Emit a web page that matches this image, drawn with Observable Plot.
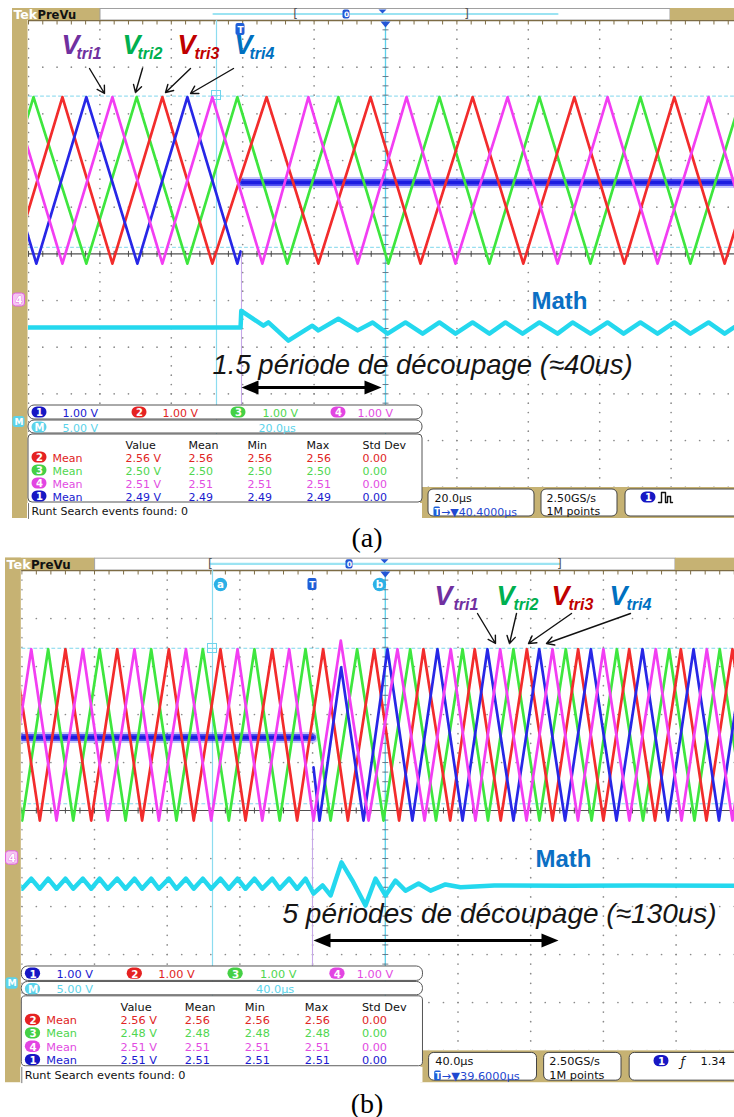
<!DOCTYPE html>
<html>
<head>
<meta charset="utf-8">
<script src="https://cdn.jsdelivr.net/npm/d3@7"></script>
<script src="https://cdn.jsdelivr.net/npm/@observablehq/plot@0.6"></script>
<style>
  html, body { margin: 0; padding: 0; background: #fff; }
  #wrap { width: 734px; }
  svg { display: block; }
  .cap { font-family: "Liberation Serif", "Times New Roman", serif; font-size: 28px; text-align: center; color: #000; }
</style>
</head>
<body>
<div id="wrap">
  <div id="panelA"></div>
  <div class="cap" style="height:25px;line-height:25px;">(a)</div>
  <div id="panelB"></div>
  <div class="cap" style="height:27px;line-height:27px;">(b)</div>
</div>
<script>
// levels in screen divisions above the centre line
const H = 3.36, L = -0.21;      // carrier top / bottom
const P = -1.42, T = -1.63;     // (b) math ripple top / bottom

const labelSubs = ["tri1", "tri2", "tri3", "tri4"];
const channelIds = ["1", "2", "3", "4"];
const channelScales = ["1.00 V", "1.00 V", "1.00 V", "1.00 V"];
const mathScale = "5.00 V";
const measHeaders = ["Value", "Mean", "Min", "Max", "Std Dev"];
const measChannels = ["2", "3", "4", "1"];
const aMeasValue = ["2.56 V", "2.50 V", "2.51 V", "2.49 V"];
const aMeasMean = ["2.56", "2.50", "2.51", "2.49"];
const aMeasMin = ["2.56", "2.50", "2.51", "2.49"];
const aMeasMax = ["2.56", "2.50", "2.51", "2.49"];
const aMeasStd = ["0.00", "0.00", "0.00", "0.00"];
const bMeasValue = ["2.56 V", "2.48 V", "2.51 V", "2.51 V"];
const bMeasMean = ["2.56", "2.48", "2.51", "2.51"];
const bMeasMin = ["2.56", "2.48", "2.51", "2.51"];
const bMeasMax = ["2.56", "2.48", "2.51", "2.51"];
const bMeasStd = ["0.00", "0.00", "0.00", "0.00"];
const aTimebase = "20.0µs", bTimebase = "40.0µs";
const aTrigPos = "40.4000µs", bTrigPos = "39.6000µs";
const sampleRate = "2.50GS/s", recordLen = "1M points";
const bTrigLevel = "1.34";
const runtText = "Runt Search events found: 0";
const aNote = "1.5 période de découpage (≈40us)";
const bNote = "5 périodes de découpage (≈130us)";

// ---- panel (a): time in µs from the left edge of the graticule (20 µs/div) ----
const aGreen = [[-12.6,L],[1.4,H],[16.2,L],[30.3,H],[44.5,L],[58.5,H],[72.5,L],[86.8,H],[100.8,L],[115.1,H],[129.1,L],[143.1,H],[157.4,L],[171.4,H],[185.4,L],[199.7,H]];
const aRed = [[-18.5,H],[-4.5,L],[9.5,H],[23.5,L],[37.5,H],[51.5,L],[66.7,H],[81.2,L],[95.8,H],[109.8,L],[124.4,H],[138.6,L],[152.9,H],[166.9,L],[180.9,H],[195.0,L],[209.2,H]];
const aMagenta = [[-18.5,L],[-4.5,H],[9.5,L],[23.5,H],[37.5,L],[51.5,H],[65.5,L],[78.4,H],[92.2,L],[105.9,H],[119.6,L],[134.2,H],[148.2,L],[162.2,H],[176.2,L],[190.5,H],[204.2,L]];
const aBlue = [[-11.8,H],[2.2,L],[16.2,H],[30.5,L],[44.5,H],[58.5,L],[59.4,0.05]];
const aBlueFlat = [[59.9,1.53],[200,1.53]];
const aMath = [[-8,-1.58],[59.4,-1.58],[59.6,-1.22],[65.8,-1.54],[67.2,-1.47],[72.8,-1.86],[79.5,-1.54],[81.2,-1.64],[86.8,-1.39],[92.2,-1.64],[96.4,-1.47],[100.6,-1.71],[105.6,-1.47],[110.4,-1.71],[115.1,-1.47],[119.6,-1.71],[124.4,-1.47],[129.1,-1.71],[133.6,-1.47],[138.4,-1.71],[143.1,-1.47],[148.2,-1.71],[152.4,-1.47],[157.4,-1.71],[162.2,-1.47],[166.7,-1.71],[171.4,-1.47],[176.2,-1.71],[180.9,-1.47],[185.4,-1.71],[190.5,-1.47],[195.0,-1.71],[199.7,-1.47]];

// ---- panel (b): time in µs from the left edge of the graticule (40 µs/div) ----
const bGreen = [[-13.9,H],[0.2,L],[14.5,H],[28.3,L],[42.8,H],[57.1,L],[71.2,H],[85.1,L],[99.6,H],[113.9,L],[128.0,H],[141.9,L],[156.1,H],[169.9,L],[184.5,H],[199.0,L],[213.7,H],[227.9,L],[242.5,H],[256.5,L],[270.5,H],[284.8,L],[299.3,H],[313.5,L],[327.4,H],[341.8,L],[356.2,H],[370.1,L],[384.0,H],[398.2,L]];
const bRed = [[-18.3,L],[-4.3,H],[9.9,L],[24.0,H],[38.2,L],[52.5,H],[66.2,L],[80.9,H],[94.6,L],[109.3,H],[123.1,L],[137.8,H],[151.5,L],[165.8,H],[179.4,L],[193.9,H],[207.6,L],[221.0,H],[235.7,L],[249.2,H],[263.5,L],[277.9,H],[292.0,L],[306.1,H],[320.0,L],[334.2,H],[348.4,L],[362.6,H],[376.7,L],[391.0,H],[404.8,L]];
const bMagenta = [[-9.0,L],[5.2,H],[19.1,L],[33.6,H],[47.3,L],[62.0,H],[75.4,L],[90.3,H],[104.2,L],[118.7,H],[132.3,L],[147.1,H],[160.5,L],[175.5,3.54],[190.8,L],[206.7,H],[221.6,L],[236.0,H],[249.6,L],[263.2,H],[277.7,L],[292.0,H],[306.0,L],[320.0,H],[334.3,L],[348.8,H],[363.0,L],[376.9,H],[391.0,L],[405.1,H]];
const bBlue = [[160.5,0.9],[163.8,L],[175.7,2.98],[188.0,L],[201.2,H],[214.9,L],[228.7,H],[242.5,L],[256.2,H],[270.5,L],[284.7,H],[298.9,L],[313.1,H],[327.2,L],[341.5,H],[355.5,L],[369.6,H],[383.6,L],[397.6,H]];
const bBlueFlat = [[-1,1.52],[160.0,1.52]];
const bMath = [[-4.3,P],[0.2,T],[5.2,P],[9.9,T],[14.5,P],[19.1,T],[24.0,P],[28.3,T],[33.6,P],[38.2,T],[42.8,P],[47.3,T],[52.5,P],[57.1,T],[62.0,P],[66.2,T],[71.2,P],[75.4,T],[80.9,P],[85.1,T],[90.3,P],[94.6,T],[99.6,P],[104.2,T],[109.3,P],[113.9,T],[118.7,P],[123.1,T],[128.0,P],[132.3,T],[137.8,P],[141.9,T],[147.1,P],[151.5,T],[156.1,P],[160.5,-1.73],[165.5,-1.56],[169.9,-1.77],[175.9,-1.08],[181.9,-1.46],[189.1,-1.98],[194.6,-1.42],[200.1,-1.77],[205.6,-1.46],[211.1,-1.67],[218.3,-1.52],[224.9,-1.67],[233.1,-1.54],[241.4,-1.6],[260,-1.56],[300,-1.57],[340,-1.56],[400,-1.57]];

const COL = {blue: "#2727e6", red: "#f22c2c", green: "#3ee63e", magenta: "#f23ef2", math: "#24d8ee"};
const chBadge = ["#1717c4", "#e52222", "#45d045", "#e245e2"];
const chText = ["#1a1ad0", "#e02424", "#4fd64f", "#e24ce2"];
const vColors = ["#7030a0", "#00b050", "#c00000", "#0070c0"];

function buildPanel(c, d) {
  const {x0, dw, tdiv, yTop, dh, width, height} = c;
  const k = dh / 46.667;
  const X = p => (p - x0) / dw * tdiv;       // local px -> time
  const Y = p => 5 - (p - yTop) / dh;        // local px -> div
  const CX = p => (p - 28) / 71.4 * tdiv;    // screen chrome px -> time
  const CY = p => 5 - (p - 20) / 46.667;
  const xMax = 10 * tdiv;
  const F = "DejaVu Sans";
  const TAN = "#c6b273";
  const M = [];
  const R = (x1, x2, y1, y2, o) => Plot.rect([{x1, x2, y1, y2}], {x1: "x1", x2: "x2", y1: "y1", y2: "y2", ...o});
  const crect = (a, b, e, f, o) => R(CX(a), CX(b), CY(e), CY(f), o);
  const Tx = (x, y, s, o) => Plot.text([{x, y, s}], {x: "x", y: "y", text: "s", fontFamily: F, fontSize: 11 * k, textAnchor: "start", lineAnchor: "middle", ...o});
  const ctext = (x, y, s, o) => Tx(CX(x), CY(y), s, o);
  const Ln = (pts, o) => Plot.line(pts, {x: p => p[0], y: p => p[1], ...o});
  const badge = (cx, cy, label, fill, w = 7.5, h = 5.5) => {
    M.push(R(CX(cx - w), CX(cx + w), CY(cy - h), CY(cy + h), {fill, rx: h * k}));
    M.push(ctext(cx, cy + 0.5, label, {fill: "#fff", textAnchor: "middle", fontWeight: "bold", fontSize: 10 * k}));
  };

  // ---- frame chrome ----
  M.push(crect(12, 27.5, 8, 518, {fill: TAN}));
  M.push(crect(12, 100, 8, 20, {fill: TAN}));
  M.push(crect(100, 670, 8.5, 20, {fill: "#fff", stroke: "#a0a0a0"}));
  M.push(crect(670, 780, 8, 20, {fill: TAN}));
  M.push(crect(420, 780, 487, 518, {fill: TAN}));
  M.push(ctext(13, 14.5, "Tek", {fill: "#fff", fontWeight: "bold", fontSize: 12.5 * k}));
  M.push(ctext(37, 14.5, "PreVu", {fill: "#111", fontWeight: "bold", fontSize: 11.5 * k}));
  M.push(Ln([[X(c.cyanBar[0]), CY(13.5)], [X(c.cyanBar[1]), CY(13.5)]], {stroke: "#9be3f2", strokeWidth: 2.2}));
  M.push(Tx(X(c.bracket[0]), CY(14), "[", {fill: "#555", fontSize: 12 * k, textAnchor: "middle"}));
  M.push(Tx(X(c.bracket[1]), CY(14), "]", {fill: "#555", fontSize: 12 * k, textAnchor: "middle"}));
  M.push(R(X(c.zero - 3.5), X(c.zero + 3.5), CY(9.5), CY(18.5), {fill: "#2456d6", rx: 2}));
  M.push(Tx(X(c.zero), CY(14.3), "0", {fill: "#fff", fontSize: 7.5 * k, textAnchor: "middle", fontWeight: "bold"}));
  M.push(Ln([[X(c.barTri - 4), CY(9)], [X(c.barTri + 4), CY(9)], [X(c.barTri), CY(13)]], {fill: "#2456d6", stroke: "none"}));

  // ---- graticule ----
  const dots = [];
  for (let i = 0; i <= 10; i++) for (let j = 0; j <= 50; j++) dots.push([i * tdiv, 5 - j * 0.2]);
  for (let i = 1; i <= 10; i++) for (let j = 0; j <= 50; j++) dots.push([j * 0.2 * tdiv, 5 - i]);
  M.push(Plot.dot(dots, {x: p => p[0], y: p => p[1], r: 0.85, fill: "#8a8a8a", clip: true}));
  M.push(Ln([[0, 5], [xMax, 5]], {stroke: "#7d6c45", strokeWidth: 1.6, clip: true}));
  const topTicks = [], hTicks = [], vTicks = [];
  for (let j = 0; j <= 50; j++) {
    topTicks.push({x: j * 0.2 * tdiv});
    hTicks.push({x: j * 0.2 * tdiv});
    vTicks.push({y: 5 - j * 0.2});
  }
  M.push(Plot.link(topTicks, {x1: "x", x2: "x", y1: 5, y2: 5 - 4 / dh, stroke: "#7d6c45", strokeWidth: 1, clip: true}));
  // horizontal cursors
  M.push(Ln([[0, 3.38], [xMax, 3.38]], {stroke: "#7fd6ec", strokeWidth: 1, strokeDasharray: "3,3", clip: true}));
  M.push(Ln([[0, 0.14], [xMax, 0.14]], {stroke: "#7fd6ec", strokeWidth: 1, strokeDasharray: "3,3", clip: true}));
  // centre horizontal line with ticks
  M.push(Ln([[0, 0], [xMax, 0]], {stroke: "#505050", strokeWidth: 1.1, clip: true}));
  M.push(Plot.link(hTicks, {x1: "x", x2: "x", y1: 3 / dh, y2: -3 / dh, stroke: "#505050", strokeWidth: 1, clip: true}));
  // centre vertical (cursor b / expansion point)
  M.push(Ln([[5 * tdiv, 5], [5 * tdiv, -5]], {stroke: "#5cd0ea", strokeWidth: 1.3}));
  M.push(Plot.link(vTicks, {x1: 5 * tdiv - 3 / dw * tdiv, x2: 5 * tdiv + 3 / dw * tdiv, y1: "y", y2: "y", stroke: "#607080", strokeWidth: 0.9}));
  // cursor a
  M.push(Ln([[X(c.cursorA), 5], [X(c.cursorA), -5]], {stroke: "#8cdcf0", strokeWidth: 1.2}));
  M.push(R(X(c.cursorA - 4.5), X(c.cursorA + 4.5), Y(c.cursorSqY - 4.5), Y(c.cursorSqY + 4.5), {fill: "none", stroke: "#70d4ec", strokeWidth: 1}));
  M.push(Ln([[X(c.cursorA - 4.5), Y(c.cursorSqY)], [X(c.cursorA + 4.5), Y(c.cursorSqY)]], {stroke: "#70d4ec", strokeWidth: 0.8}));
  // trigger line
  M.push(Ln([[X(c.trigX), Y(c.trigLine[0])], [X(c.trigX), Y(c.trigLine[1])]], {stroke: "#c6a8e8", strokeWidth: 1.1}));

  // ---- traces ----
  const tri = (arr, color) => M.push(Ln(arr, {stroke: color, strokeWidth: 2.7, clip: true}));
  M.push(Ln(d.blueFlat, {stroke: "#4a4af4", strokeWidth: 11, strokeOpacity: 0.3, clip: true}));
  M.push(Ln(d.blueFlat, {stroke: "#2a2aee", strokeWidth: 7, strokeOpacity: 0.75, clip: true}));
  M.push(Ln(d.blueFlat, {stroke: "#1c1ce0", strokeWidth: 3.5, clip: true}));
  tri(d.green, COL.green);
  tri(d.red, COL.red);
  tri(d.blue, COL.blue);
  tri(d.magenta, COL.magenta);
  M.push(Ln(d.math, {stroke: COL.math, strokeWidth: 4.5, clip: true}));

  // top markers
  const tm = c.trigMarker;
  M.push(R(X(tm - 4.5), X(tm + 4.5), Y(c.markerY - 6), Y(c.markerY + 6), {fill: "#1f5fd8", rx: 2}));
  M.push(Tx(X(tm), Y(c.markerY + 0.5), "T", {fill: "#fff", fontWeight: "bold", fontSize: 9 * k, textAnchor: "middle"}));
  if (c.abMarkers) {
    for (const [mx, lab] of c.abMarkers) {
      M.push(Plot.dot([{x: X(mx), y: Y(c.markerY)}], {x: "x", y: "y", r: 6.5 * k, fill: "#2cb0e6"}));
      M.push(Tx(X(mx), Y(c.markerY + 0.5), lab, {fill: "#fff", fontWeight: "bold", fontSize: 10 * k, textAnchor: "middle"}));
    }
  }
  M.push(Ln([[5 * tdiv - 5 / dw * tdiv, 5 - 1 / dh], [5 * tdiv + 5 / dw * tdiv, 5 - 1 / dh], [5 * tdiv, 5 - 7 / dh]], {fill: "#2456d6", stroke: "none"}));

  // ---- annotations ----
  const v = c.vLabels;
  for (let i = 0; i < 4; i++) {
    M.push(Tx(X(v.v[i]), Y(v.base), "V", {fill: vColors[i], fontFamily: "Liberation Sans", fontWeight: "bold", fontStyle: "italic", fontSize: v.size, lineAnchor: "bottom"}));
    M.push(Tx(X(v.sub[i]), Y(v.subBase), labelSubs[i], {fill: vColors[i], fontFamily: "Liberation Sans", fontWeight: "bold", fontStyle: "italic", fontSize: v.subSize, lineAnchor: "bottom"}));
  }
  M.push(Plot.arrow(c.arrows.map(a => ({x1: X(a[0]), y1: Y(a[1]), x2: X(a[2]), y2: Y(a[3])})), {x1: "x1", y1: "y1", x2: "x2", y2: "y2", stroke: "#111", strokeWidth: 1.4, headLength: 9}));
  M.push(Tx(X(c.mathLabel[0]), Y(c.mathLabel[1]), "Math", {fill: "#0b6fc4", fontFamily: "Liberation Sans", fontWeight: "bold", fontSize: c.mathLabel[2], textAnchor: "middle", lineAnchor: "bottom"}));
  M.push(Tx(X(c.note[0]), Y(c.note[1]), d.note, {fill: "#151515", fontFamily: "Liberation Sans", fontStyle: "italic", fontSize: c.note[2], lineAnchor: "bottom"}));
  const [sl, sr, sy] = c.span;
  M.push(Ln([[X(sl + 8), Y(sy)], [X(sr - 8), Y(sy)]], {stroke: "#000", strokeWidth: 2.8}));
  M.push(Ln([[X(sl), Y(sy)], [X(sl + 17), Y(sy - 7)], [X(sl + 17), Y(sy + 7)]], {fill: "#000", stroke: "none"}));
  M.push(Ln([[X(sr), Y(sy)], [X(sr - 17), Y(sy - 7)], [X(sr - 17), Y(sy + 7)]], {fill: "#000", stroke: "none"}));

  // ---- side markers ----
  M.push(crect(12.5, 24.5, 293, 306, {fill: "#f5c6f2", stroke: "#e060e0", rx: 3}));
  M.push(ctext(18.5, 300, "4", {fill: "#fff", fontWeight: "bold", fontSize: 10 * k, textAnchor: "middle", stroke: "#e050e0", strokeWidth: 0.6}));
  M.push(crect(12.5, 24.5, 416, 427, {fill: "#5cd3ea", rx: 3}));
  M.push(ctext(18.5, 421.5, "M", {fill: "#fff", fontWeight: "bold", fontSize: 9 * k, textAnchor: "middle"}));

  // ---- readout boxes ----
  M.push(crect(28, 422, 405, 419, {fill: "#fff", stroke: "#555", rx: 6 * k}));
  M.push(crect(28, 422, 420, 433, {fill: "#fff", stroke: "#555", rx: 6 * k}));
  M.push(crect(28, 422, 434, 502, {fill: "#fff", stroke: "#555", rx: 4 * k}));
  M.push(crect(27, 422, 503, 518, {fill: "#fff"}));
  M.push(Ln([[CX(28), CY(503)], [CX(28), CY(518)]], {stroke: "#777", strokeWidth: 1}));
  const bx = [39, 139, 238, 338], tx = [62, 162, 262, 357];
  for (let i = 0; i < 4; i++) {
    badge(bx[i], 412, channelIds[i], chBadge[i]);
    M.push(ctext(tx[i], 412.5, channelScales[i], {fill: chText[i]}));
  }
  badge(39, 427, "M", "#5cd3ea");
  M.push(ctext(62, 427.5, mathScale, {fill: "#5cd3ea"}));
  M.push(ctext(258, 427.5, d.timebase, {fill: "#5cd3ea"}));
  const cols = [125, 188, 247, 306, 362];
  measHeaders.forEach((h, j) => M.push(ctext(cols[j], 444.5, h, {fill: "#111"})));
  const rowsY = [457, 470, 483, 496];
  measChannels.forEach((ch, r) => {
    const ci = +ch - 1;
    badge(39, rowsY[r], ch, chBadge[ci]);
    M.push(ctext(52, rowsY[r] + 0.5, "Mean", {fill: chText[ci]}));
    const vals = [d.meas[0][r], d.meas[1][r], d.meas[2][r], d.meas[3][r], d.meas[4][r]];
    vals.forEach((s, j) => M.push(ctext(cols[j], rowsY[r] + 0.5, s, {fill: chText[ci]})));
  });
  M.push(ctext(31, 510.5, runtText, {fill: "#111"}));

  M.push(crect(428, 534, 489, 516, {fill: "#fff", stroke: "#444", rx: 5 * k}));
  M.push(crect(541, 617, 489, 516, {fill: "#fff", stroke: "#444", rx: 5 * k}));
  M.push(crect(625, 790, 489, 516, {fill: "#fff", stroke: "#444", rx: 5 * k}));
  M.push(ctext(434, 497.5, d.timebase, {fill: "#111"}));
  M.push(crect(433.5, 440, 506.5, 516, {fill: "#1f5fd8", rx: 1.5}));
  M.push(ctext(436.8, 511.5, "T", {fill: "#fff", fontSize: 8 * k, fontWeight: "bold", textAnchor: "middle"}));
  M.push(ctext(440.5, 511.5, "→▼" + d.trigPos, {fill: "#1f48d0"}));
  M.push(ctext(546, 497.5, sampleRate, {fill: "#111"}));
  M.push(ctext(546, 510.5, recordLen, {fill: "#111"}));
  const tb = c.box3;
  M.push(R(X(tb.badge - 7.5), X(tb.badge + 7.5), CY(491.5), CY(502.5), {fill: "#1717c4", rx: 5.5 * k}));
  M.push(Tx(X(tb.badge), CY(497.5), "1", {fill: "#fff", fontWeight: "bold", fontSize: 10 * k, textAnchor: "middle"}));
  if (tb.pulse) {
    const p0 = tb.pulse;
    M.push(Ln([[X(p0), CY(502)], [X(p0 + 3), CY(502)], [X(p0 + 3), CY(492)], [X(p0 + 7), CY(492)], [X(p0 + 7), CY(502)], [X(p0 + 9), CY(502)], [X(p0 + 9), CY(496)], [X(p0 + 12), CY(496)], [X(p0 + 12), CY(502)], [X(p0 + 14), CY(502)]], {stroke: "#111", strokeWidth: 1.4}));
  }
  if (tb.edge) {
    M.push(Tx(X(tb.edge), CY(497.5), "ƒ", {fill: "#111", fontSize: 12 * k, fontStyle: "italic"}));
    M.push(Tx(X(tb.level), CY(497.5), d.trigLevel, {fill: "#111"}));
  }

  return Plot.plot({
    width, height,
    marginLeft: x0, marginRight: 0, marginTop: yTop, marginBottom: height - (yTop + 10 * dh),
    x: {domain: [0, xMax], range: [x0, x0 + 10 * dw], axis: null},
    y: {domain: [5, -5], range: [yTop, yTop + 10 * dh], axis: null},
    style: {background: "#fff"},
    marks: M
  });
}

const cfgA = {
  x0: 28, dw: 71.4, tdiv: 20, yTop: 20, dh: 46.667, width: 734, height: 525,
  bracket: [295, 466], cyanBar: [213, 557], zero: 346, barTri: 382,
  cursorA: 216, cursorSqY: 95, trigX: 241, trigLine: [253, 405], trigMarker: 240, markerY: 29,
  vLabels: {base: 53, subBase: 58, v: [61, 122, 177, 234], sub: [76, 137, 194, 249], size: 27, subSize: 16},
  arrows: [[89, 68, 104, 93], [142, 68, 135, 92], [190, 68, 165, 92], [233, 68, 190, 93]],
  mathLabel: [559, 308, 24], note: [212, 373, 27.5], span: [241, 381, 387],
  box3: {badge: 648, pulse: 658}
};
const cfgB = {
  x0: 21.3, dw: 72.7, tdiv: 40, yTop: 20, dh: 48, width: 734, height: 540,
  bracket: [210, 559], cyanBar: [210, 559], zero: 349, barTri: 384,
  cursorA: 212, cursorSqY: 98, trigX: 312, trigLine: [260, 415], trigMarker: 312, markerY: 34,
  abMarkers: [[220, "a"], [379, "b"]],
  vLabels: {base: 54, subBase: 59, v: [434, 496, 551, 609], sub: [453, 513, 568, 626], size: 27, subSize: 16},
  arrows: [[477, 63, 495, 93], [516, 63, 509, 93], [571, 63, 528, 93], [630, 63, 546, 93]],
  mathLabel: [563, 316, 24], note: [282, 372, 28], span: [313, 558, 390],
  box3: {badge: 661, edge: 680, level: 700}
};

document.getElementById("panelA").append(buildPanel(cfgA, {
  green: aGreen, red: aRed, magenta: aMagenta, blue: aBlue, blueFlat: aBlueFlat, math: aMath,
  note: aNote, timebase: aTimebase, trigPos: aTrigPos,
  meas: [aMeasValue, aMeasMean, aMeasMin, aMeasMax, aMeasStd]
}));
document.getElementById("panelB").append(buildPanel(cfgB, {
  green: bGreen, red: bRed, magenta: bMagenta, blue: bBlue, blueFlat: bBlueFlat, math: bMath,
  note: bNote, timebase: bTimebase, trigPos: bTrigPos, trigLevel: bTrigLevel,
  meas: [bMeasValue, bMeasMean, bMeasMin, bMeasMax, bMeasStd]
}));
</script>
</body>
</html>
